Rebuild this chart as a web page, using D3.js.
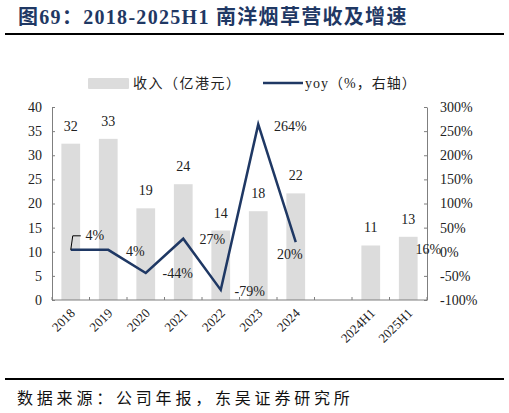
<!DOCTYPE html>
<html>
<head>
<meta charset="utf-8">
<script src="https://cdn.jsdelivr.net/npm/d3@7"></script>
<style>
  body { margin: 0; background: #fff; }
  svg text { font-family: "Liberation Serif", "Noto Sans CJK SC", serif; }
</style>
</head>
<body>
<div id="chart"></div>
<script>
// categories ("" is the empty gap slot)
const categories = ["2018", "2019", "2020", "2021", "2022", "2023", "2024", "", "2024H1", "2025H1"];
// revenue, HKD 100m
const revenue = [32.4, 33.4, 19.0, 24.0, 14.4, 18.4, 22.1, null, 11.3, 13.1];
// yoy, %
const yoy = [4, 4, -44, 27, -79, 264, 20, null, null, 16];
const leftTicks = [0, 5, 10, 15, 20, 25, 30, 35, 40];
const rightTicks = [-100, -50, 0, 50, 100, 150, 200, 250, 300];

// label nudges for the yoy labels (dx, dy in px)
const yoyLabelShift = [[24, -14], [27, 2], [32, 1], [29, 1], [29, 2], [32, 3], [-6, 13], null, null, [20, 6]];

function initChart() {
    const width = 509, height = 413;
    const margin = { left: 52, right: 82, top: 107, bottom: 113 };
    const navy = "#1f3864";

    const svg = d3.select("#chart").append("svg")
        .attr("width", width)
        .attr("height", height);

    // title
    svg.append("text")
        .attr("x", 18).attr("y", 24)
        .attr("font-size", 20).attr("font-weight", "bold")
        .attr("fill", navy)
        .attr("letter-spacing", 1.3)
        .text("图69：2018-2025H1 南洋烟草营收及增速");
    svg.append("line").attr("x1", 5).attr("x2", 504).attr("y1", 34).attr("y2", 34)
        .attr("stroke", "#000").attr("stroke-width", 2);

    const x = d3.scaleBand()
        .domain(d3.range(categories.length))
        .range([margin.left, width - margin.right])
        .paddingInner(0.5).paddingOuter(0.25);
    const yL = d3.scaleLinear().domain([0, 40]).range([height - margin.bottom, margin.top]);
    const yR = d3.scaleLinear().domain([-100, 300]).range([height - margin.bottom, margin.top]);
    const step = x.step();
    const x0 = margin.left, x1 = width - margin.right;

    // bars
    svg.append("g").selectAll("rect")
        .data(revenue.map((v, i) => ({ v, i })).filter(d => d.v != null))
        .join("rect")
        .attr("x", d => x(d.i))
        .attr("y", d => yL(d.v))
        .attr("width", x.bandwidth())
        .attr("height", d => yL(0) - yL(d.v))
        .attr("fill", "#dcdcdc");

    // bar labels
    svg.append("g").selectAll("text")
        .data(revenue.map((v, i) => ({ v, i })).filter(d => d.v != null))
        .join("text")
        .attr("x", d => x(d.i) + x.bandwidth() / 2)
        .attr("y", d => yL(d.v) - 13)
        .attr("text-anchor", "middle")
        .attr("font-size", 14).attr("fill", "#222")
        .text(d => d3.format(".0f")(d.v));

    // left axis
    const gL = svg.append("g").attr("transform", `translate(${x0},0)`)
        .call(d3.axisLeft(yL).tickValues(leftTicks).tickSizeInner(-3).tickSizeOuter(0).tickPadding(10));
    // right axis
    const gR = svg.append("g").attr("transform", `translate(${x1},0)`)
        .call(d3.axisRight(yR).tickValues(rightTicks).tickSizeInner(-3).tickSizeOuter(0).tickPadding(13)
            .tickFormat(d => d + "%"));
    [gL, gR].forEach(g => {
        g.select(".domain").attr("stroke", "#7f7f7f");
        g.selectAll(".tick line").attr("stroke", "#7f7f7f");
        g.selectAll(".tick text").attr("font-size", 14).attr("fill", "#222")
            .attr("font-family", "Liberation Serif");
    });

    // x axis baseline + boundary ticks
    const base = yL(0);
    svg.append("line").attr("x1", x0).attr("x2", x1).attr("y1", base).attr("y2", base)
        .attr("stroke", "#7f7f7f");
    svg.append("g").selectAll("line")
        .data(d3.range(categories.length + 1))
        .join("line")
        .attr("x1", i => x0 + i * step).attr("x2", i => x0 + i * step)
        .attr("y1", base).attr("y2", base - 3)
        .attr("stroke", "#7f7f7f");

    // x labels rotated
    svg.append("g").selectAll("text")
        .data(categories.map((c, i) => ({ c, i })).filter(d => d.c !== ""))
        .join("text")
        .attr("transform", d => `translate(${x(d.i) + x.bandwidth() / 2 + 5},${base + 14}) rotate(-45)`)
        .attr("text-anchor", "end")
        .attr("font-size", 13).attr("fill", "#222")
        .text(d => d.c);

    // yoy line (only the continuous yearly part is joined)
    const line = d3.line()
        .defined(d => d.v != null)
        .x(d => x(d.i) + x.bandwidth() / 2)
        .y(d => yR(d.v));
    const yoyPts = yoy.map((v, i) => ({ v, i }));
    svg.append("path")
        .datum(yoyPts.slice(0, 7))
        .attr("d", line)
        .attr("fill", "none")
        .attr("stroke", navy)
        .attr("stroke-width", 2.5)
        .attr("stroke-linejoin", "miter");

    // leader line for first label
    const p0x = x(0) + x.bandwidth() / 2, p0y = yR(yoy[0]);
    svg.append("path")
        .attr("d", `M${p0x},${p0y} L${p0x + 2},${p0y - 14} L${p0x + 10},${p0y - 14}`)
        .attr("fill", "none").attr("stroke", "#000").attr("stroke-width", 1);

    // yoy labels
    svg.append("g").selectAll("text")
        .data(yoyPts.filter(d => d.v != null))
        .join("text")
        .attr("x", d => x(d.i) + x.bandwidth() / 2 + yoyLabelShift[d.i][0])
        .attr("y", d => yR(d.v) + yoyLabelShift[d.i][1] + 4)
        .attr("text-anchor", "middle")
        .attr("font-size", 14).attr("fill", "#222")
        .text(d => d.v + "%");

    // legend
    const lg = svg.append("g");
    lg.append("rect").attr("x", 88).attr("y", 78).attr("width", 41).attr("height", 11)
        .attr("rx", 1).attr("fill", "#dcdcdc");
    lg.append("text").attr("x", 133).attr("y", 88).attr("font-size", 14).attr("fill", "#222")
        .attr("font-family", "Noto Sans CJK SC").attr("letter-spacing", 1.5)
        .text("收入（亿港元）");
    lg.append("line").attr("x1", 263).attr("x2", 303).attr("y1", 83).attr("y2", 83)
        .attr("stroke", navy).attr("stroke-width", 2.5);
    lg.append("text").attr("x", 305).attr("y", 88).attr("font-size", 14).attr("fill", "#222")
        .attr("letter-spacing", 1)
        .text("yoy（%，右轴）");

    // footer
    svg.append("line").attr("x1", 5).attr("x2", 504).attr("y1", 379).attr("y2", 379)
        .attr("stroke", "#000").attr("stroke-width", 2);
    svg.append("text").attr("x", 17).attr("y", 404)
        .attr("font-size", 16).attr("fill", "#111")
        .attr("font-family", "Noto Sans CJK SC").attr("letter-spacing", 3.8)
        .text("数据来源：公司年报，东吴证券研究所");
}

window.onload = initChart;
</script>
</body>
</html>
